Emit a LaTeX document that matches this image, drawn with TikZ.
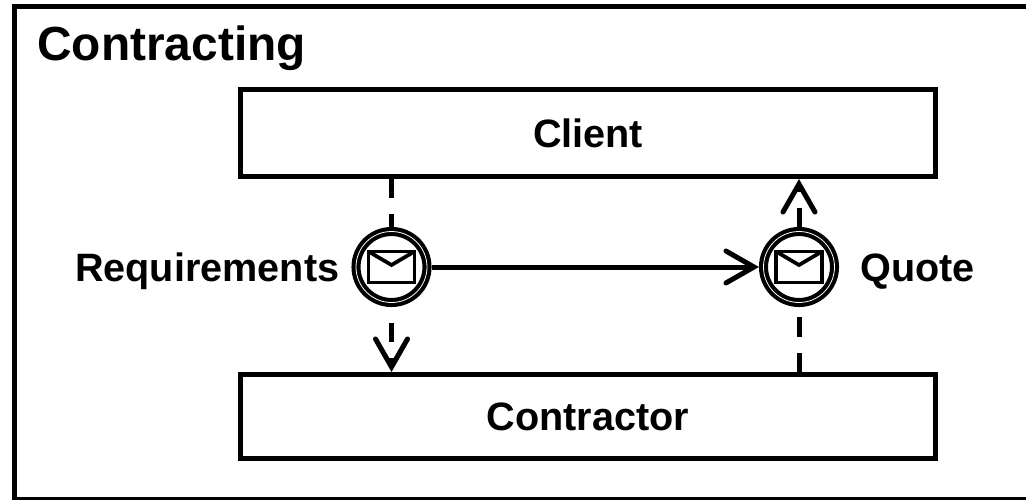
\documentclass[tikz,border=0pt]{standalone}
\usepackage{fontspec}
\setmainfont{Liberation Sans}
\usetikzlibrary{arrows.meta,calc}
\tikzset{
    frameline/.style={line width=3.75pt},
    partbox/.style={draw, line width=3.75pt, minimum width=521.25pt, outer sep=1.875pt, inner sep=0pt, font=\fontsize{29.7pt}{32pt}\selectfont\bfseries},
    eventnode/.style={circle, draw, line width=3.1pt, double=white, double distance=0.6pt, minimum size=53.25pt, inner sep=0pt, outer sep=3.4pt},
    envelope/.style={line width=2.8pt, line join=miter},
    textlabel/.style={inner sep=0pt, font=\fontsize{29.7pt}{32pt}\selectfont\bfseries},
    titlelabel/.style={inner sep=0pt, font=\fontsize{35.9pt}{38pt}\selectfont\bfseries},
    flowtip/.style={-{Straight Barb[length=21pt, width=24pt, line cap=round]}, line width=3.75pt},
    msgflow/.style={line width=3.75pt, dash pattern=on 14.5pt off 12pt}
}
\begin{document}
\begin{tikzpicture}[x=0.75pt, y=-0.75pt]
    %% Background
    \useasboundingbox (0,0) rectangle (1026,500);
    \draw[frameline] (1026,6.5) to (14.5,6.5) to (14.5,499.5) to (1026,499.5);

    %% Title
    \node[titlelabel, anchor=base west] (title) at (37,60) {Contracting};

    %% Participants
    \node[partbox, minimum height=65.25pt] (client) at (588,133) {Client};
    \node[partbox, minimum height=63pt] (contractor) at (588,416.5) {Contractor};

    %% Events
    \node[eventnode] (requirements) at (391.5,267) {};
    \node[eventnode] (quote) at (799,267) {};
    \foreach \eventname in {requirements,quote} {
        \draw[envelope] ($(\eventname)+(-23,-15.5)$) rectangle ($(\eventname)+(23,15.5)$);
        \draw[envelope] ($(\eventname)+(-23,-15.5)$) to ($(\eventname)+(0,-2)$) to ($(\eventname)+(23,-15.5)$);
    }

    %% Labels
    \node[textlabel, anchor=base east] (requirementslabel) at (339.5,281) {Requirements};
    \node[textlabel, anchor=base west] (quotelabel) at (860,281) {Quote};

    %% Flows
    \draw[msgflow] (requirements.north |- client.south) to (requirements.north);
    \draw[msgflow, dash phase=14.5pt, flowtip] (requirements.south) to (requirements.south |- contractor.north);
    \draw[flowtip] (requirements.east) to (quote.west);
    \draw[msgflow] (quote.south |- contractor.north) to (quote.south);
    \draw[msgflow, flowtip] (quote.north) to (quote.north |- client.south);
\end{tikzpicture}
\end{document}
